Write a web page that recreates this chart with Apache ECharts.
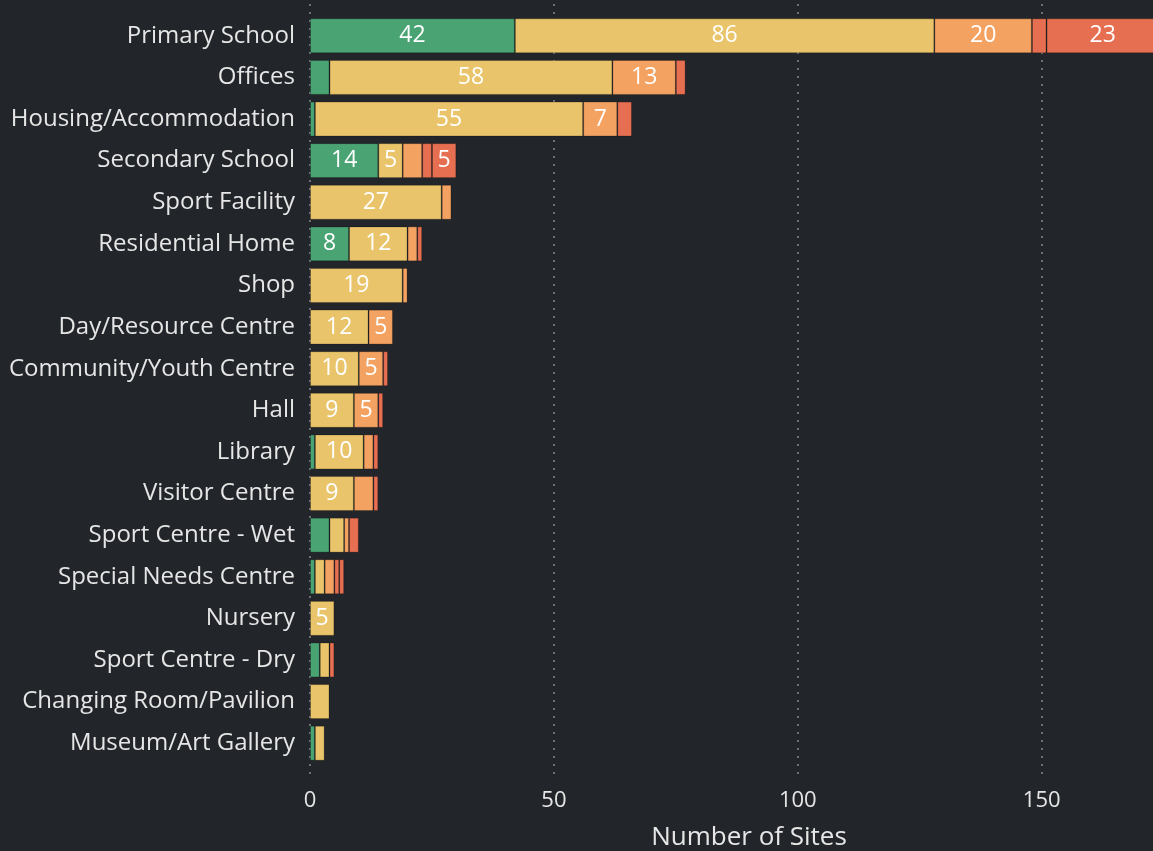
<!DOCTYPE html>
<html>
<head>
<meta charset="utf-8">
<script src="https://cdn.jsdelivr.net/npm/echarts@6/dist/echarts.min.js"></script>
<style>
  html, body { margin: 0; padding: 0; background: #22252a; }
  #chart { width: 1153px; height: 851px; }
</style>
</head>
<body>
<div id="chart"></div>
<script>
  // building types, top to bottom
  const categories = [
    'Primary School', 'Offices', 'Housing/Accommodation', 'Secondary School',
    'Sport Facility', 'Residential Home', 'Shop', 'Day/Resource Centre',
    'Community/Youth Centre', 'Hall', 'Library', 'Visitor Centre',
    'Sport Centre - Wet', 'Special Needs Centre', 'Nursery', 'Sport Centre - Dry',
    'Changing Room/Pavilion', 'Museum/Art Gallery'
  ]
  // stacked segments, left to right
  const band1 = [42, 4, 1, 14, 0, 8, 0, 0, 0, 0, 1, 0, 4, 1, 0, 2, 0, 1]
  const band2 = [86, 58, 55, 5, 27, 12, 19, 12, 10, 9, 10, 9, 3, 2, 5, 2, 4, 2]
  const band3 = [20, 13, 7, 4, 2, 2, 1, 5, 5, 5, 2, 4, 1, 2, 0, 0, 0, 0]
  const band4 = [3, 0, 0, 2, 0, 0, 0, 0, 0, 0, 0, 0, 0, 1, 0, 0, 0, 0]
  const band5 = [23, 2, 3, 5, 0, 1, 0, 0, 1, 1, 1, 1, 2, 1, 0, 1, 0, 0]
  const xTicks = [0, 50, 100, 150]

  const bands = [
    { name: 'Band 1', data: band1, color: '#4aa373' },
    { name: 'Band 2', data: band2, color: '#e9c46a' },
    { name: 'Band 3', data: band3, color: '#f4a261' },
    { name: 'Band 4', data: band4, color: '#e76f51' },
    { name: 'Band 5', data: band5, color: '#e76f51' }
  ]

  const font = 'Open Sans'
  const mychart = echarts.init(document.getElementById('chart'))

  const series = bands.map(b => ({
    type: 'bar',
    name: b.name,
    stack: 'total',
    xAxisIndex: 0,
    yAxisIndex: 0,
    barWidth: '84%',
    itemStyle: {
      color: b.color,
      borderColor: 'rgba(0,0,0,0.22)',
      borderWidth: 1
    },
    label: {
      show: true,
      position: 'inside',
      color: '#fff',
      fontFamily: font,
      fontSize: 23,
      formatter: p => (p.value >= 5 ? p.value : '')
    },
    data: b.data.map(v => (v === 0 ? null : v))
  }))

  // plot runs past the right edge of the canvas (bars get cut there)
  mychart.setOption({
    backgroundColor: '#22252a',
    animation: false,
    grid: [
      { left: 310, width: 878, top: 15, bottom: 87, outerBoundsMode: 'none' },
      { left: 310, width: 878, top: 4, bottom: 73, outerBoundsMode: 'none' }
    ],
    xAxis: [
      { type: 'value', gridIndex: 0, min: 0, max: 180, show: false },
      {
        type: 'value',
        gridIndex: 1,
        min: xTicks[0],
        max: 180,
        interval: xTicks[1] - xTicks[0],
        name: 'Number of Sites',
        nameLocation: 'middle',
        nameGap: 47,
        nameTextStyle: { color: '#e6e6e6', fontFamily: font, fontSize: 26 },
        axisLine: { show: false },
        axisTick: { show: false },
        axisLabel: {
          color: '#e6e6e6',
          fontFamily: font,
          fontSize: 22,
          margin: 12,
          formatter: v => (xTicks.includes(v) ? v : '')
        },
        splitLine: {
          show: true,
          lineStyle: { color: '#80838a', width: 1.6, type: [2, 6] }
        }
      }
    ],
    yAxis: [
      {
        type: 'category',
        gridIndex: 0,
        inverse: true,
        data: categories,
        axisLine: { show: false },
        axisTick: { show: false },
        axisLabel: {
          color: '#e6e6e6',
          fontFamily: font,
          fontSize: 24,
          margin: 15
        }
      },
      { type: 'value', gridIndex: 1, show: false }
    ],
    series: series
  })
</script>
</body>
</html>
